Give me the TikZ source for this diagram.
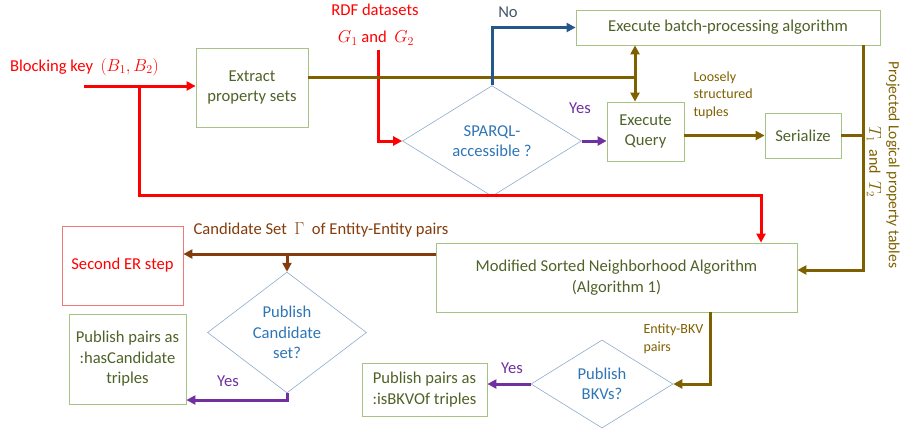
\documentclass[tikz,border=0pt]{standalone}
\usepackage{fontspec}
\setmainfont{Carlito}
\usetikzlibrary{arrows.meta,shapes.geometric}

\definecolor{keyred}{HTML}{FF0000}
\definecolor{olive}{HTML}{7F6000}
\definecolor{rust}{HTML}{843C0C}
\definecolor{navy}{HTML}{24588A}
\definecolor{nogray}{HTML}{44546A}
\definecolor{yespurple}{HTML}{7030A0}
\definecolor{boxgreen}{HTML}{A6C285}
\definecolor{txtgreen}{HTML}{4F6228}
\definecolor{diaedge}{HTML}{8FAACC}
\definecolor{diatext}{HTML}{2E75B6}
\definecolor{erborder}{HTML}{F07878}

\tikzset{
	stepbox/.style = {draw = boxgreen, line width = 0.8pt, text = txtgreen, align = center, inner sep = 0pt,
		font = \fontsize{16.6}{20.5}\selectfont},
	decision/.style = {diamond, draw = diaedge, line width = 0.6pt, text = diatext, align = center, inner sep = 0pt,
		font = \fontsize{16.6}{20.5}\selectfont},
	flow/.style = {line width = 3pt, -{Triangle[length = 9pt, width = 9pt]}},
	lbl/.style = {font = \fontsize{16.6}{20.5}\selectfont},
	small/.style = {font = \fontsize{14}{17.5}\selectfont, align = left}
}

\begin{document}
\begin{tikzpicture}[x = 1pt, y = -1pt]
	\useasboundingbox (0, 0) rectangle (904, 429);

	% boxes
	\node[stepbox, minimum width = 112pt, minimum height = 79pt] (extract) at (252, 87.5) {Extract\\property sets};
	\node[stepbox, minimum width = 304pt, minimum height = 35pt] (batch) at (728, 27.5) {Execute batch-processing algorithm};
	\node[stepbox, minimum width = 77pt, minimum height = 59pt] (query) at (645.5, 131.5) {Execute\\Query};
	\node[stepbox, minimum width = 76pt, minimum height = 45pt] (serialize) at (803, 135.5) {Serialize};
	\node[stepbox, minimum width = 361pt, minimum height = 69pt] (msna) at (616.5, 277.5) {Modified Sorted Neighborhood Algorithm\\(Algorithm 1)};
	\node[stepbox, draw = erborder, text = keyred, minimum width = 121pt, minimum height = 79pt] (second) at (122.5, 265.5) {Second ER step};
	\node[stepbox, minimum width = 117pt, minimum height = 90pt] (hascand) at (127.5, 359) {Publish pairs as\\:hasCandidate\\triples};
	\node[stepbox, minimum width = 125pt, minimum height = 53pt] (isbkv) at (424.5, 389.5) {Publish pairs as\\:isBKVOf triples};

	% decisions
	\node[decision, minimum width = 179pt, minimum height = 92pt] (sparql) at (492, 141) {SPARQL-\\accessible ?};
	\node[decision, minimum width = 159pt, minimum height = 109pt] (canddia) at (287, 332.5) {Publish\\Candidate\\set?};
	\node[decision, minimum width = 142pt, minimum height = 88pt] (bkvdia) at (602, 384) {Publish\\BKVs?};

	% turning points
	\coordinate (bkstart) at (84, 86);
	\coordinate (bkbranch) at (139, 86);
	\coordinate (redturn) at (761, 195);
	\coordinate (rdf) at (378, 50);
	\coordinate (junc) at (635, 77);
	\coordinate (tcorner) at (863, 270);
	\coordinate (cand) at (436, 254);
	\coordinate (cyes) at (287, 400);
	\coordinate (ebkv) at (710, 384);

	% red arrows
	\draw[flow, keyred] (bkstart) -- (bkstart -| extract.west);
	\draw[flow, keyred] (bkbranch) |- (redturn) -- (redturn |- msna.north);
	\draw[flow, keyred] (rdf) |- (sparql.west);

	% olive arrows
	\draw[line width = 3pt, olive] (extract.east |- junc) -- (junc);
	\draw[line width = 3pt, olive, {Triangle[length = 9pt, width = 9pt]}-{Triangle[length = 9pt, width = 9pt]}]
		(batch.south -| junc) -- (query.north -| junc);
	\draw[flow, olive] (serialize.west -| query.east) -- (serialize.west);
	\draw[line width = 3pt, olive] (serialize.east) -- (serialize.east -| tcorner);
	\draw[flow, olive] (batch.south -| tcorner) -- (tcorner) -- (tcorner -| msna.east);
	\draw[flow, olive] (msna.south -| ebkv) -- (ebkv) -- (bkvdia.east);

	% rust arrows
	\draw[flow, rust] (cand) -- (cand -| second.east);
	\draw[flow, rust] (cand -| canddia.north) -- (canddia.north);

	% no / yes arrows
	\draw[flow, navy] (sparql.north) |- (batch.west);
	\draw[flow, yespurple] (sparql.east) -- (sparql.east -| query.west);
	\draw[flow, yespurple] (canddia.south) -- (cyes) -- (cyes -| hascand.east);
	\draw[flow, yespurple] (bkvdia.west) -- (bkvdia.west -| isbkv.east);

	% labels
	\node[lbl, text = keyred] (bklabel) at (84.5, 67) {Blocking key~ $(B_1,B_2)$};
	\node[lbl, text = keyred] (rdflabel) at (375, 10) {RDF datasets};
	\node[lbl, text = keyred] (glabel) at (376, 38) {$G_1$ and ~$G_2$};
	\node[lbl, text = nogray] (nolabel) at (508, 12) {No};
	\node[lbl, text = yespurple] (yesq) at (580, 108) {Yes};
	\node[lbl, text = yespurple] (yescand) at (228, 381) {Yes};
	\node[lbl, text = yespurple] (yesbkv) at (512, 368) {Yes};
	\node[lbl, text = rust] (candlabel) at (321, 230) {Candidate Set ~$\Gamma$~ of Entity-Entity pairs};
	\node[small, text = olive, anchor = west] (loose) at (690, 95) {Loosely\\structured\\tuples};
	\node[small, text = olive, anchor = west] (ebkvlabel) at (640, 339) {Entity-BKV\\pairs};
	\node[small, text = olive, rotate = -90, font = \fontsize{15.5}{18}\selectfont] (projlabel) at (893, 165) {Projected Logical property tables};
	\node[small, text = olive, rotate = -90, font = \fontsize{16}{18}\selectfont] (tlabel) at (874, 162) {$T_1$ ~and~ $T_2$};

\end{tikzpicture}
\end{document}
